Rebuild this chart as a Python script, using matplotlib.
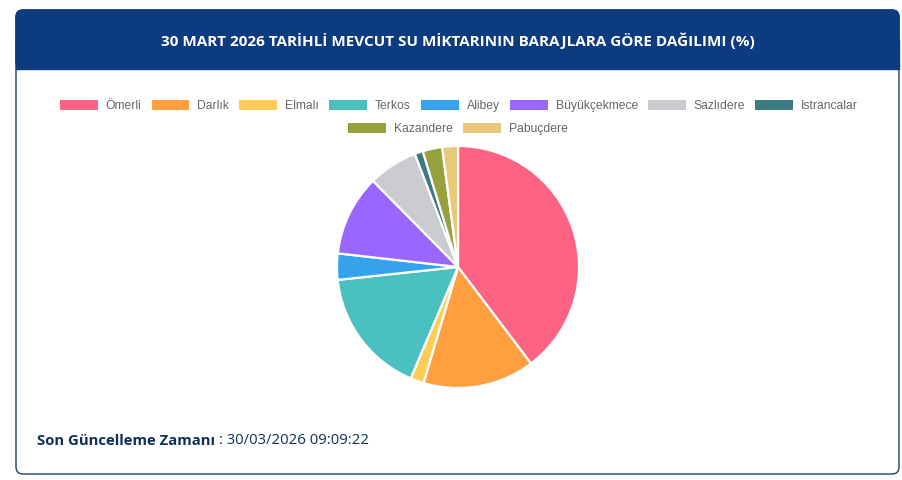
import matplotlib
matplotlib.use("Agg")
import matplotlib.pyplot as plt
from matplotlib.patches import FancyBboxPatch, Rectangle, Patch

# ---- data ----
title = "30 MART 2026 TARİHLİ MEVCUT SU MİKTARININ BARAJLARA GÖRE DAĞILIMI (%)"
dams = ["Ömerli", "Darlık", "Elmalı", "Terkos", "Alibey", "Büyükçekmece",
        "Sazlıdere", "Istrancalar", "Kazandere", "Pabuçdere"]
shares = [39.7, 14.9, 1.8, 16.9, 3.5, 10.8, 6.6, 1.1, 2.6, 2.1]
colors = ["#FF6384", "#FF9F40", "#FFCD56", "#4BC0C0", "#36A2EB", "#9966FF",
          "#C9CBCF", "#3B7A80", "#96A03C", "#E8C97A"]
footer_label = "Son Güncelleme Zamanı"
footer_value = " : 30/03/2026 09:09:22"

W, H = 903, 480
fig = plt.figure(figsize=(W / 100, H / 100), dpi=100)
fig.patch.set_facecolor("white")

# background overlay axes in pixel units
bg = fig.add_axes([0, 0, 1, 1])
bg.set_xlim(0, W)
bg.set_ylim(H, 0)
bg.axis("off")

navy = "#0D3B80"
# card
bg.add_patch(FancyBboxPatch((16, 10), 883, 464, boxstyle="round,pad=0,rounding_size=7",
                            facecolor="white", edgecolor="#1C3F6E", linewidth=1.0, zorder=1))
# header
bg.add_patch(FancyBboxPatch((16, 10), 883, 59, boxstyle="round,pad=0,rounding_size=7",
                            facecolor=navy, edgecolor=navy, linewidth=1.0, zorder=2))
bg.add_patch(Rectangle((16, 40), 883, 29, facecolor=navy, edgecolor=navy, linewidth=1.0, zorder=2))
bg.text(458, 41, title, color="white", fontsize=11.0, fontweight="bold",
        family="Open Sans", ha="center", va="center", zorder=3)

# footer
t1 = bg.text(37, 441, footer_label, color="#0E2F5A", fontsize=10.7, fontweight="bold",
             family="Open Sans", ha="left", va="center", zorder=3)
bg.annotate(footer_value, xy=(1, 0.5), xycoords=t1, va="center", ha="left",
            color="#0E2F5A", fontsize=10.7, family="Open Sans", zorder=3)

# pie
cx, cy, r = 458, 267, 121
ax = fig.add_axes([(cx - r) / W, 1 - (cy + r) / H, 2 * r / W, 2 * r / H])
ax.pie(shares, colors=colors, startangle=90, counterclock=False,
       wedgeprops=dict(edgecolor="white", linewidth=1.6))
ax.set_xlim(-1.0, 1.0)
ax.set_ylim(-1.0, 1.0)
ax.set_aspect("equal")
ax.axis("off")

handles = [Patch(facecolor=c, edgecolor="none") for c in colors]
leg_kw = dict(frameon=False, handlelength=3.1, handleheight=0.85,
              handletextpad=0.65, columnspacing=0.85, borderpad=0, borderaxespad=0,
              prop=dict(family="Liberation Sans", size=8.75), labelcolor="#666666")
leg1 = fig.legend(handles[:8], dams[:8], ncol=8, loc="center",
                  bbox_to_anchor=(459 / W, 1 - 106 / H), **leg_kw)
leg2 = fig.legend(handles[8:], dams[8:], ncol=2, loc="center",
                  bbox_to_anchor=(458 / W, 1 - 129 / H), **leg_kw)

fig.savefig("out.png", dpi=100, facecolor="white")
